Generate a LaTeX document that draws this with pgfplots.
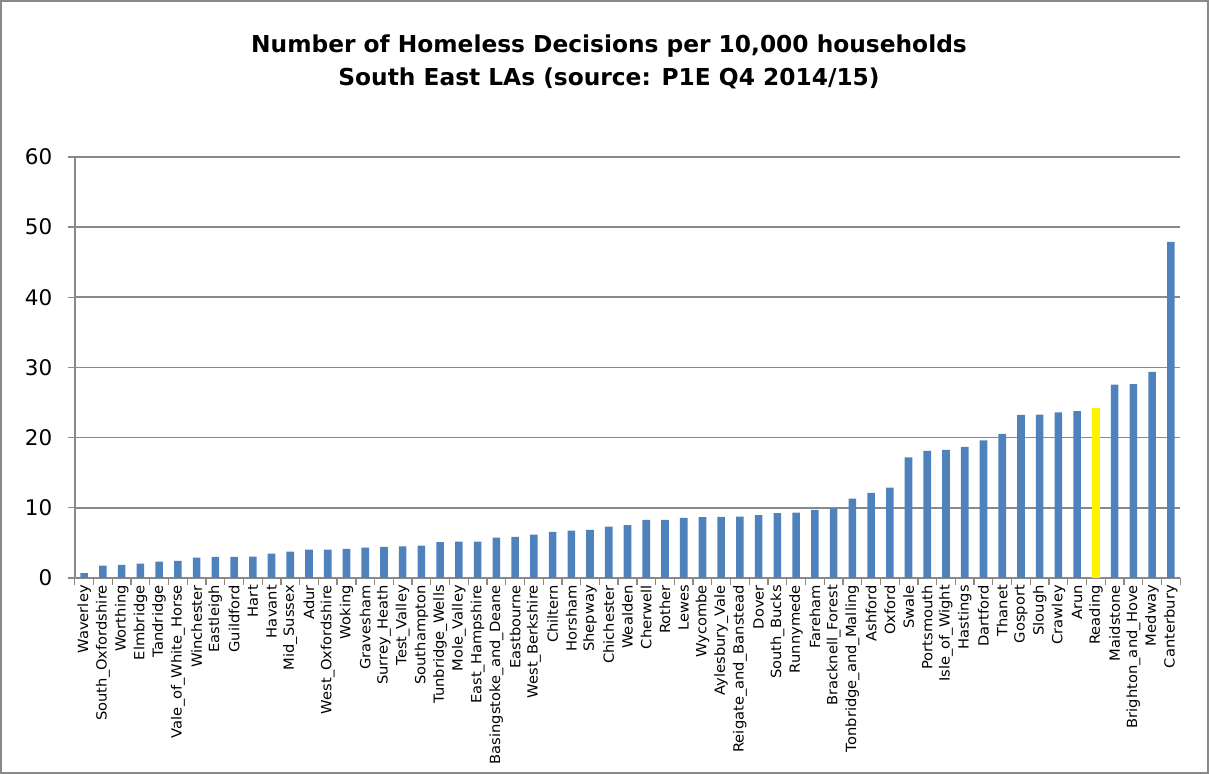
\documentclass[border=0pt]{standalone}
\usepackage{pgfplots}
\pgfplotsset{compat=1.18}
\usepackage{fontspec}
\setmainfont{DejaVu Sans}
\newfontfamily\labfont[FakeStretch=1.05]{DejaVu Sans}
\definecolor{barblue}{HTML}{4F81BD}
\definecolor{gridgray}{HTML}{898989}
\begin{document}
\begin{tikzpicture}[x=1pt,y=1pt]
\draw[gridgray, line width=1.6pt] (1,1) rectangle (1208,773);
\node[align=center, font=\fontsize{23.3}{33}\selectfont\bfseries] at (609,712) {Number of Homeless Decisions per 10,000 households\\South East LAs (source: P1E Q4 2014/15)};
\begin{axis}[
  at={(75pt,196pt)}, anchor=south west,
  scale only axis, width=1105pt, height=421pt,
  ymin=0, ymax=60, ytick={0,10,...,60},
  xmin=-0.5, xmax=58.5,
  xtick={-0.5,0.5,...,58.5}, xticklabels={},
  extra x ticks={0,...,58},
  extra x tick labels={Waverley,South\_Oxfordshire,Worthing,Elmbridge,Tandridge,Vale\_of\_White\_Horse,Winchester,Eastleigh,Guildford,Hart,Havant,Mid\_Sussex,Adur,West\_Oxfordshire,Woking,Gravesham,Surrey\_Heath,Test\_Valley,Southampton,Tunbridge\_Wells,Mole\_Valley,East\_Hampshire,Basingstoke\_and\_Deane,Eastbourne,West\_Berkshire,Chiltern,Horsham,Shepway,Chichester,Wealden,Cherwell,Rother,Lewes,Wycombe,Aylesbury\_Vale,Reigate\_and\_Banstead,Dover,South\_Bucks,Runnymede,Fareham,Bracknell\_Forest,Tonbridge\_and\_Malling,Ashford,Oxford,Swale,Portsmouth,Isle\_of\_Wight,Hastings,Dartford,Thanet,Gosport,Slough,Crawley,Arun,Reading,Maidstone,Brighton\_and\_Hove,Medway,Canterbury},
  extra x tick style={major tick length=0pt, tick label style={rotate=90, anchor=east, font=\labfont\fontsize{14}{14}\selectfont, inner xsep=7pt, inner ysep=2pt}},
  ymajorgrids, grid style={gridgray, line width=1.6pt},
  axis x line*=bottom, axis y line*=left,
  axis line style={gridgray, line width=1.6pt, -},
  tick style={gridgray, line width=1.3pt},
  tick align=outside, major tick length=7pt,
  y tick label style={font=\fontsize{21.5}{21.5}\selectfont, xshift=-12pt},
  /pgf/number format/assume math mode=true,
  ybar, bar width=7.6pt, bar shift=0pt,
]
\addplot[fill=barblue, draw=none] coordinates {
(0,0.71) (1,1.76) (2,1.86) (3,2.05) (4,2.33) (5,2.43) (6,2.90) (7,3.00) (8,3.00) (9,3.05)
(10,3.48) (11,3.76) (12,4.05) (13,4.05) (14,4.14) (15,4.33) (16,4.43) (17,4.52) (18,4.62) (19,5.10)
(20,5.19) (21,5.19) (22,5.76) (23,5.86) (24,6.19) (25,6.57) (26,6.76) (27,6.86) (28,7.33) (29,7.52)
(30,8.29) (31,8.29) (32,8.57) (33,8.67) (34,8.71) (35,8.76) (36,8.95) (37,9.24) (38,9.33) (39,9.70)
(40,9.91) (41,11.29) (42,12.14) (43,12.86) (44,17.17) (45,18.12) (46,18.26) (47,18.69) (48,19.59) (49,20.54)
(50,23.24) (51,23.29) (52,23.58) (53,23.77) (55,27.56) (56,27.61) (57,29.36) (58,47.9)
};
\addplot[fill=yellow, draw=none] coordinates {(54,24.19)};
\end{axis}
\end{tikzpicture}
\end{document}
